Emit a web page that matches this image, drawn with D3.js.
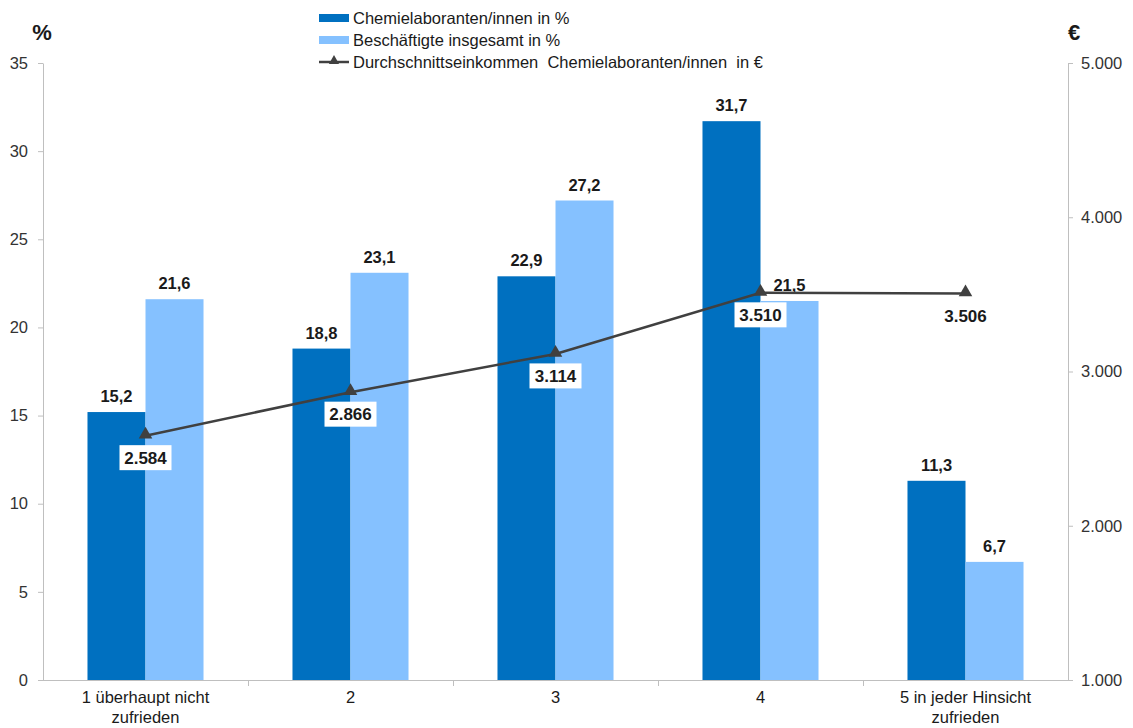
<!DOCTYPE html>
<html><head><meta charset="utf-8">
<script src="https://cdn.jsdelivr.net/npm/d3@7"></script>
<style>
body{margin:0;background:#fff;}
svg{font-family:"Liberation Sans",Arial,sans-serif;}
</style></head>
<body>
<svg id="chart" width="1133" height="728"></svg>
<script>
const categories = ["1 überhaupt nicht|zufrieden","2","3","4","5 in jeder Hinsicht|zufrieden"];
const seriesNames = ["Chemielaboranten/innen in %","Beschäftigte insgesamt in %"];
const chemValues = [15.2,18.8,22.9,31.7,11.3];
const allValues = [21.6,23.1,27.2,21.5,6.7];
const lineName = "Durchschnittseinkommen  Chemielaboranten/innen  in €";
const incomeValues = [2584,2866,3114,3510,3506];
const leftTicks = [0,5,10,15,20,25,30,35];
const rightTicks = [1000,2000,3000,4000,5000];
const colors = ["#0070C0","#85C1FF"];
const lineColor = "#404040";

const svg = d3.select("#chart");
const L = 43, R = 1068, T = 63, B = 680;
const fmtDE = v => v.toFixed(1).replace(".", ",");
const fmtEur = v => d3.format(",")(v).replace(/,/g, ".");

const x0 = d3.scaleBand().domain(categories).range([L, R]).padding(0);
const bw = x0.bandwidth();
const x1 = d3.scaleBand().domain([0,1]).range([bw*0.217, bw*0.783]).padding(0);
const yL = d3.scaleLinear().domain([0,35]).range([B,T]);
const yR = d3.scaleLinear().domain([1000,5000]).range([B,T]);

// left axis
const axL = svg.append("g").attr("transform",`translate(${L},0)`)
  .call(d3.axisLeft(yL).tickValues(leftTicks).tickSize(5).tickSizeOuter(0).tickPadding(10));
axL.select(".domain").attr("stroke","#bfbfbf");
axL.selectAll(".tick line").attr("stroke","#bfbfbf");
axL.selectAll(".tick text").attr("font-size",16.5).attr("fill","#333").attr("font-family","Liberation Sans, Arial, sans-serif");

// right axis
const axR = svg.append("g").attr("transform",`translate(${R},0)`)
  .call(d3.axisRight(yR).tickValues(rightTicks).tickSize(5).tickSizeOuter(0).tickPadding(8).tickFormat(fmtEur));
axR.select(".domain").attr("stroke","#bfbfbf");
axR.selectAll(".tick line").attr("stroke","#bfbfbf");
axR.selectAll(".tick text").attr("font-size",16.5).attr("fill","#333").attr("font-family","Liberation Sans, Arial, sans-serif");

// x axis
const gx = svg.append("g");
gx.append("line").attr("x1",L-5).attr("x2",R).attr("y1",B+0.5).attr("y2",B+0.5).attr("stroke","#bfbfbf");
const boundaries = categories.map(c => x0(c)).concat([R]);
gx.selectAll("line.bt").data(boundaries.slice(1,-1)).join("line")
  .attr("x1",d=>d+0.5).attr("x2",d=>d+0.5).attr("y1",B).attr("y2",B+6).attr("stroke","#bfbfbf");
categories.forEach(c => {
  const parts = c.split("|");
  const t = gx.append("text").attr("x", x0(c)+bw/2).attr("y", B+23)
    .attr("text-anchor","middle").attr("font-size",16.5).attr("fill","#1a1a1a");
  parts.forEach((p,i)=> t.append("tspan").attr("x", x0(c)+bw/2).attr("dy", i?20:0).text(p));
});

// bars
const data = categories.map((c,i)=>({c, vals:[chemValues[i], allValues[i]]}));
const groups = svg.append("g").selectAll("g").data(data).join("g")
  .attr("transform", d=>`translate(${x0(d.c)},0)`);
groups.selectAll("rect").data(d=>d.vals.map((v,k)=>({v,k}))).join("rect")
  .attr("x", d=>x1(d.k)).attr("width", x1.bandwidth())
  .attr("y", d=>yL(d.v)).attr("height", d=>B-yL(d.v))
  .attr("fill", d=>colors[d.k]);
groups.selectAll("text").data(d=>d.vals.map((v,k)=>({v,k}))).join("text")
  .attr("x", d=>x1(d.k)+x1.bandwidth()/2).attr("y", d=>yL(d.v)-10)
  .attr("text-anchor","middle").attr("font-size",16.5).attr("font-weight","bold").attr("fill","#1a1a1a")
  .text(d=>fmtDE(d.v));

// line
const pts = categories.map((c,i)=>({x:x0(c)+bw/2, y:yR(incomeValues[i]), v:incomeValues[i]}));
svg.append("path").datum(pts)
  .attr("d", d3.line().x(d=>d.x).y(d=>d.y))
  .attr("fill","none").attr("stroke",lineColor).attr("stroke-width",2.5);
const tri = d3.symbol().type(d3.symbolTriangle).size(80);
svg.append("g").selectAll("path").data(pts).join("path")
  .attr("d", tri).attr("transform", d=>`translate(${d.x},${d.y-1})`).attr("fill",lineColor);
const lbl = svg.append("g").selectAll("g").data(pts).join("g")
  .attr("transform", d=>`translate(${d.x},${d.y+22})`);
lbl.append("rect").attr("x",-26).attr("y",-12.5).attr("width",52).attr("height",25).attr("fill","#fff");
lbl.append("text").attr("text-anchor","middle").attr("dy","0.36em")
  .attr("font-size",17).attr("font-weight","bold").attr("fill","#1a1a1a").text(d=>fmtEur(d.v));

// axis unit titles
svg.append("text").attr("x",42).attr("y",40).attr("text-anchor","middle")
  .attr("font-size",22).attr("font-weight","bold").attr("fill","#1a1a1a").text("%");
svg.append("text").attr("x",1074).attr("y",40).attr("text-anchor","middle")
  .attr("font-size",22).attr("font-weight","bold").attr("fill","#1a1a1a").text("€");

// legend
const lg = svg.append("g").attr("transform","translate(319,0)");
[0,1].forEach(k=>{
  const yy = [18,40][k];
  lg.append("rect").attr("x",0).attr("y",yy-4).attr("width",30).attr("height",8).attr("fill",colors[k]);
  lg.append("text").attr("x",34).attr("y",yy).attr("dy","0.35em").attr("font-size",16.5).attr("fill","#1a1a1a").text(seriesNames[k]);
});
lg.append("line").attr("x1",0).attr("x2",30).attr("y1",62).attr("y2",62).attr("stroke",lineColor).attr("stroke-width",2.5);
lg.append("path").attr("d", d3.symbol().type(d3.symbolTriangle).size(45)).attr("transform","translate(15,61)").attr("fill",lineColor);
lg.append("text").attr("x",34).attr("y",62).attr("dy","0.35em").attr("font-size",16.5).attr("fill","#1a1a1a")
  .style("white-space","pre").text(lineName);
</script>
</body></html>
